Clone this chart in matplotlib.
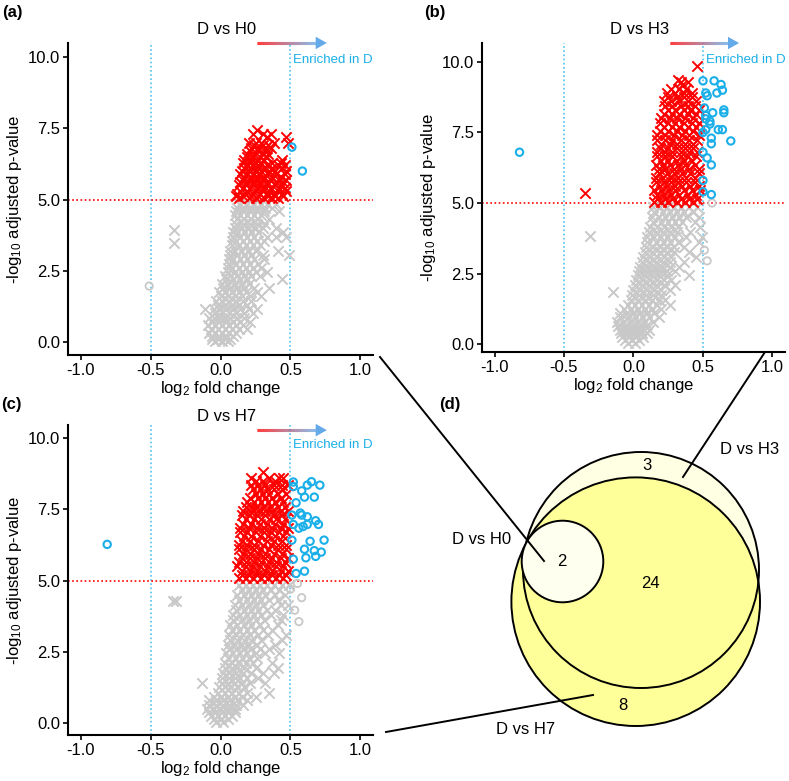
import matplotlib
matplotlib.use('Agg')
import matplotlib.pyplot as plt
import matplotlib.ticker as mticker
import numpy as np
from matplotlib.collections import LineCollection
from matplotlib.patches import Polygon, Circle
from matplotlib.colors import to_rgb

plt.rcParams['font.family'] = ['Liberation Sans', 'DejaVu Sans']
plt.rcParams['mathtext.default'] = 'regular'

RED = '#FF0000'
GREY = '#C8C8C8'
BLUE = '#1AAFE8'
VLINE = '#4FC3F0'
ARROW_END = '#64AAE8'

# ---------------- data ----------------
# each row: (-log10 adj. p, [log2 fold changes at that height])

# panel (a): D vs H0
a_red_rows = [
    (7.45, [0.26]), (7.3, [0.23, 0.30, 0.36]), (7.2, [0.33, 0.47]),
    (7.0, [0.20, 0.25, 0.29, 0.38, 0.48]), (6.9, [0.24, 0.30, 0.34]),
    (6.8, [0.22, 0.27, 0.32, 0.36]), (6.7, [0.21, 0.27, 0.32]),
    (6.6, [0.19, 0.24, 0.30, 0.34]), (6.5, [0.19, 0.23, 0.28, 0.33]),
    (6.4, [0.17, 0.21, 0.26, 0.31, 0.44]), (6.3, [0.16, 0.21, 0.25, 0.29, 0.37, 0.43]),
    (6.2, [0.19, 0.23, 0.27, 0.33, 0.41, 0.46]), (6.1, [0.17, 0.22, 0.27, 0.31, 0.37, 0.44]),
    (6.0, [0.15, 0.20, 0.25, 0.29, 0.35, 0.39, 0.47]),
    (5.9, [0.14, 0.19, 0.24, 0.28, 0.34, 0.40, 0.46]),
    (5.8, [0.17, 0.22, 0.26, 0.31, 0.37, 0.43]),
    (5.7, [0.16, 0.21, 0.26, 0.30, 0.36, 0.42, 0.47]),
    (5.6, [0.14, 0.19, 0.24, 0.28, 0.33, 0.40, 0.45]),
    (5.5, [0.13, 0.18, 0.23, 0.28, 0.33, 0.39, 0.44]),
    (5.4, [0.16, 0.21, 0.26, 0.30, 0.36, 0.42, 0.46]),
    (5.3, [0.14, 0.19, 0.25, 0.30, 0.35, 0.41, 0.47]),
    (5.2, [0.12, 0.18, 0.23, 0.28, 0.33, 0.38, 0.44]),
    (5.12, [0.11, 0.16, 0.22, 0.27, 0.34, 0.39, 0.45]),
    (5.05, [0.13, 0.20, 0.25, 0.31, 0.37, 0.41]),
]
a_grey_rows = [
    (4.85, [0.13, 0.18, 0.23, 0.28, 0.33, 0.40]), (4.72, [0.12, 0.17, 0.22, 0.27, 0.32, 0.37]),
    (4.6, [0.11, 0.16, 0.21, 0.26, 0.31, 0.42]), (4.45, [0.10, 0.14, 0.19, 0.24, 0.29]),
    (4.3, [0.12, 0.17, 0.22, 0.27, 0.35]), (4.15, [0.11, 0.16, 0.21, 0.26, 0.32]),
    (4.0, [0.10, 0.15, 0.20, 0.25, 0.30, 0.40]), (3.93, [-0.33]),
    (3.85, [0.09, 0.12, 0.17, 0.22, 0.27, 0.45]), (3.7, [0.09, 0.14, 0.19, 0.24, 0.33, 0.40, 0.47]),
    (3.55, [0.08, 0.11, 0.16, 0.21, 0.26, 0.31]), (3.47, [-0.33]),
    (3.4, [0.08, 0.13, 0.18, 0.23, 0.28]), (3.2, [0.07, 0.10, 0.15, 0.20, 0.25, 0.41]),
    (3.05, [0.07, 0.12, 0.17, 0.22, 0.30, 0.49]), (2.9, [0.06, 0.09, 0.14, 0.19, 0.24, 0.31]),
    (2.75, [0.06, 0.11, 0.16, 0.21, 0.27]), (2.6, [0.05, 0.08, 0.13, 0.18, 0.23, 0.29]),
    (2.45, [0.05, 0.10, 0.15, 0.20, 0.25, 0.33]), (2.3, [0.03, 0.07, 0.12, 0.17, 0.22, 0.28]),
    (2.2, [0.04, 0.09, 0.14, 0.19, 0.44]), (2.05, [0.01, 0.05, 0.10, 0.15, 0.20]),
    (1.9, [0.02, 0.07, 0.12, 0.17, 0.24, 0.35]), (1.75, [-0.01, 0.03, 0.08, 0.13, 0.18, 0.26]),
    (1.6, [0.00, 0.05, 0.10, 0.15, 0.21, 0.29]), (1.45, [-0.03, 0.01, 0.06, 0.11, 0.16, 0.22]),
    (1.3, [-0.02, 0.03, 0.08, 0.13, 0.19]), (1.15, [-0.11, -0.05, -0.01, 0.04, 0.09, 0.14, 0.20, 0.26]),
    (1.0, [-0.04, 0.01, 0.06, 0.11, 0.17, 0.23]), (0.85, [-0.08, -0.05, -0.01, 0.03, 0.07, 0.12, 0.17]),
    (0.7, [-0.06, -0.01, 0.04, 0.09, 0.14, 0.21]), (0.58, [-0.09, -0.04, 0.01, 0.06, 0.11, 0.16]),
    (0.45, [-0.07, -0.02, 0.03, 0.08, 0.13, 0.19]), (0.32, [-0.08, -0.04, 0.01, 0.06, 0.11]),
    (0.2, [-0.06, -0.01, 0.04, 0.09]), (0.1, [-0.06, -0.02, 0.03, 0.07]),
    (0.02, [-0.04, 0.01, 0.05]),
]
a_blue_x = [0.51, 0.585]
a_blue_y = [6.84, 6.0]
a_greyo_x = [-0.51]
a_greyo_y = [1.96]

# panel (b): D vs H3
b_red_rows = [
    (9.86, [0.456]), (9.35, [0.32]), (9.3, [0.34, 0.39]), (9.2, [0.35]),
    (9.05, [0.27, 0.33, 0.38]), (8.9, [0.24, 0.30, 0.36, 0.42]),
    (8.75, [0.25, 0.31, 0.36, 0.42]), (8.6, [0.22, 0.27, 0.33, 0.39, 0.45]),
    (8.45, [0.23, 0.28, 0.34, 0.39, 0.44]), (8.3, [0.25, 0.30, 0.36, 0.41, 0.47]),
    (8.15, [0.22, 0.28, 0.33, 0.39, 0.45]), (8.0, [0.20, 0.26, 0.31, 0.37, 0.43]),
    (7.85, [0.19, 0.25, 0.30, 0.36, 0.42, 0.47]), (7.7, [0.22, 0.28, 0.33, 0.39, 0.45]),
    (7.55, [0.19, 0.25, 0.31, 0.37, 0.43]), (7.4, [0.17, 0.23, 0.29, 0.35, 0.40, 0.47]),
    (7.25, [0.17, 0.23, 0.28, 0.34, 0.40, 0.46]), (7.1, [0.20, 0.26, 0.31, 0.37, 0.43]),
    (6.95, [0.19, 0.25, 0.31, 0.37, 0.43]), (6.8, [0.17, 0.23, 0.28, 0.34, 0.40, 0.46]),
    (6.65, [0.17, 0.23, 0.28, 0.34, 0.39, 0.45]), (6.5, [0.20, 0.25, 0.31, 0.36, 0.42]),
    (6.35, [0.16, 0.21, 0.26, 0.32, 0.37, 0.44]), (6.2, [0.18, 0.23, 0.29, 0.34, 0.40, 0.47]),
    (6.05, [0.18, 0.24, 0.29, 0.35, 0.41, 0.47]), (5.9, [0.16, 0.21, 0.27, 0.32, 0.38, 0.44]),
    (5.75, [0.16, 0.22, 0.27, 0.32, 0.38, 0.44]), (5.6, [0.19, 0.24, 0.30, 0.35, 0.41, 0.47]),
    (5.45, [0.15, 0.20, 0.25, 0.30, 0.36, 0.42, 0.48]), (5.35, [-0.35]),
    (5.3, [0.17, 0.22, 0.27, 0.33, 0.39, 0.45]), (5.15, [0.17, 0.23, 0.28, 0.34, 0.40, 0.46]),
    (5.05, [0.15, 0.20, 0.25, 0.31, 0.37, 0.43]),
]
b_grey_rows = [
    (4.85, [0.14, 0.19, 0.24, 0.29, 0.34, 0.40, 0.46]), (4.68, [0.15, 0.21, 0.26, 0.31, 0.36, 0.43]),
    (4.5, [0.13, 0.18, 0.23, 0.28, 0.33, 0.38, 0.47]), (4.32, [0.14, 0.20, 0.25, 0.30, 0.35, 0.44]),
    (4.15, [0.12, 0.17, 0.22, 0.27, 0.32, 0.48]), (3.98, [0.11, 0.16, 0.21, 0.26, 0.31, 0.41]),
    (3.83, [-0.31]), (3.8, [0.10, 0.15, 0.20, 0.25, 0.30, 0.38, 0.49]),
    (3.62, [0.10, 0.16, 0.21, 0.26, 0.32, 0.47]), (3.45, [0.09, 0.14, 0.19, 0.24, 0.29, 0.36]),
    (3.28, [0.08, 0.13, 0.19, 0.24, 0.29, 0.40]), (3.1, [0.07, 0.12, 0.17, 0.22, 0.27, 0.45]),
    (2.92, [0.06, 0.11, 0.16, 0.21, 0.26, 0.36]), (2.75, [0.05, 0.10, 0.15, 0.20, 0.26, 0.33]),
    (2.6, [0.04, 0.09, 0.14, 0.19, 0.24, 0.30]), (2.45, [0.03, 0.08, 0.13, 0.18, 0.24, 0.40]),
    (2.28, [0.02, 0.07, 0.12, 0.17, 0.22, 0.27]), (2.1, [0.01, 0.06, 0.11, 0.16, 0.22, 0.30]),
    (1.92, [0.00, 0.05, 0.10, 0.15, 0.20, 0.26]), (1.85, [-0.15]),
    (1.75, [-0.01, 0.04, 0.09, 0.14, 0.20]), (1.58, [-0.02, 0.03, 0.08, 0.13, 0.18, 0.23]),
    (1.4, [-0.04, 0.01, 0.06, 0.11, 0.17, 0.26]), (1.25, [-0.07, -0.02, 0.03, 0.08, 0.13, 0.20]),
    (1.1, [-0.10, -0.05, 0.00, 0.05, 0.10, 0.15]), (0.95, [-0.10, -0.04, 0.01, 0.06, 0.11, 0.18]),
    (0.8, [-0.12, -0.07, -0.02, 0.03, 0.08, 0.14]), (0.65, [-0.11, -0.06, -0.01, 0.04, 0.09]),
    (0.5, [-0.10, -0.05, 0.00, 0.05, 0.11]), (0.38, [-0.09, -0.04, 0.01, 0.06, 0.10]),
    (0.25, [-0.08, -0.03, 0.02, 0.07]), (0.15, [-0.06, -0.01, 0.04]), (0.05, [-0.04, 0.01]),
]
b_blue_x = [-0.82, 0.50, 0.58, 0.63, 0.64, 0.52, 0.53, 0.60, 0.51, 0.52, 0.57, 0.65, 0.65,
            0.52, 0.55, 0.55, 0.50, 0.52, 0.61, 0.64, 0.56, 0.56, 0.70, 0.50, 0.53, 0.56,
            0.50, 0.50, 0.56]
b_blue_y = [6.8, 9.33, 9.33, 9.2, 9.0, 8.9, 8.8, 8.9, 8.37, 8.1, 8.2, 8.3, 8.2,
            7.98, 7.9, 7.8, 7.5, 7.6, 7.6, 7.6, 7.3, 7.1, 7.2, 6.8, 6.6, 6.35,
            5.8, 5.4, 5.3]
b_greyo_x = [0.565, 0.51, 0.53]
b_greyo_y = [5.0, 3.33, 2.95]

# panel (c): D vs H7
c_red_rows = [
    (8.8, [0.30]), (8.6, [0.22, 0.35, 0.42, 0.45]), (8.48, [0.25, 0.30, 0.39]),
    (8.35, [0.22, 0.27, 0.32, 0.38, 0.44, 0.48]), (8.2, [0.23, 0.28, 0.33, 0.38, 0.44]),
    (8.05, [0.25, 0.30, 0.35, 0.41, 0.47]), (7.9, [0.21, 0.27, 0.32, 0.37, 0.43]),
    (7.75, [0.19, 0.24, 0.29, 0.34, 0.39, 0.45]), (7.6, [0.18, 0.22, 0.26, 0.31, 0.36, 0.41, 0.46]),
    (7.45, [0.16, 0.21, 0.27, 0.32, 0.37, 0.43, 0.48]), (7.3, [0.15, 0.20, 0.26, 0.32, 0.38, 0.44]),
    (7.15, [0.18, 0.24, 0.29, 0.35, 0.40, 0.46]), (7.0, [0.16, 0.22, 0.28, 0.33, 0.39, 0.45]),
    (6.85, [0.14, 0.20, 0.26, 0.31, 0.37, 0.43, 0.48]), (6.7, [0.14, 0.19, 0.25, 0.31, 0.36, 0.42, 0.47]),
    (6.55, [0.17, 0.22, 0.28, 0.34, 0.39, 0.45]), (6.4, [0.15, 0.21, 0.27, 0.33, 0.38, 0.44]),
    (6.25, [0.13, 0.19, 0.24, 0.30, 0.36, 0.41, 0.47]), (6.1, [0.13, 0.18, 0.24, 0.29, 0.35, 0.41, 0.47]),
    (5.95, [0.16, 0.21, 0.27, 0.32, 0.38, 0.44]), (5.8, [0.15, 0.21, 0.26, 0.32, 0.37, 0.43, 0.48]),
    (5.65, [0.13, 0.18, 0.24, 0.29, 0.35, 0.40, 0.46]), (5.5, [0.12, 0.18, 0.23, 0.28, 0.34, 0.40, 0.45]),
    (5.35, [0.15, 0.21, 0.26, 0.32, 0.37, 0.43, 0.48]), (5.2, [0.15, 0.20, 0.26, 0.31, 0.37, 0.42, 0.47]),
    (5.08, [0.13, 0.18, 0.23, 0.29, 0.34, 0.40, 0.45]),
]
c_grey_rows = [
    (4.85, [0.13, 0.18, 0.23, 0.28, 0.33, 0.38, 0.44, 0.49]), (4.68, [0.15, 0.20, 0.25, 0.30, 0.36, 0.42]),
    (4.5, [0.12, 0.17, 0.22, 0.27, 0.32, 0.39, 0.46]), (4.32, [0.13, 0.19, 0.24, 0.29, 0.35, 0.41]),
    (4.3, [-0.34, -0.32]), (4.15, [0.10, 0.15, 0.20, 0.25, 0.30, 0.43, 0.48]),
    (3.98, [0.11, 0.17, 0.22, 0.27, 0.33, 0.39]), (3.8, [0.09, 0.14, 0.19, 0.24, 0.29, 0.36, 0.45]),
    (3.62, [0.09, 0.15, 0.20, 0.25, 0.31, 0.43]), (3.45, [0.07, 0.12, 0.17, 0.22, 0.28, 0.41]),
    (3.28, [0.08, 0.13, 0.19, 0.24, 0.30, 0.37]), (3.1, [0.06, 0.11, 0.16, 0.21, 0.27, 0.34, 0.47]),
    (2.92, [0.07, 0.12, 0.17, 0.22, 0.29, 0.44]), (2.75, [0.05, 0.10, 0.15, 0.20, 0.26, 0.39]),
    (2.6, [0.06, 0.11, 0.16, 0.21, 0.28, 0.35]), (2.45, [0.04, 0.09, 0.14, 0.19, 0.25, 0.32, 0.42]),
    (2.28, [0.05, 0.10, 0.15, 0.20, 0.26]), (2.1, [0.03, 0.08, 0.13, 0.18, 0.23, 0.37]),
    (1.92, [0.03, 0.08, 0.12, 0.17, 0.25, 0.41]), (1.75, [0.02, 0.06, 0.11, 0.16, 0.22, 0.30, 0.38]),
    (1.58, [0.01, 0.06, 0.10, 0.14, 0.19, 0.27]), (1.4, [-0.13, 0.01, 0.05, 0.10, 0.15, 0.21, 0.32]),
    (1.25, [-0.01, 0.03, 0.07, 0.12, 0.17]), (1.05, [-0.02, 0.03, 0.08, 0.13, 0.19, 0.35]),
    (0.92, [-0.05, 0.00, 0.05, 0.10, 0.15, 0.25]), (0.8, [-0.08, -0.03, 0.02, 0.07, 0.12, 0.19]),
    (0.65, [-0.08, -0.03, 0.02, 0.06, 0.11, 0.16]), (0.5, [-0.10, -0.05, 0.00, 0.05, 0.10]),
    (0.38, [-0.08, -0.04, 0.01, 0.05, 0.10]), (0.25, [-0.07, -0.02, 0.03, 0.08]),
    (0.15, [-0.05, 0.00, 0.05]), (0.05, [-0.03, 0.02]),
]
c_blue_x = [-0.81, 0.52, 0.52, 0.58, 0.62, 0.65, 0.71, 0.54, 0.60, 0.67, 0.51, 0.57, 0.58,
            0.62, 0.68, 0.70, 0.52, 0.56, 0.59, 0.62, 0.51, 0.64, 0.74, 0.60, 0.67, 0.72,
            0.61, 0.68, 0.52, 0.54, 0.60]
c_blue_y = [6.27, 8.46, 8.3, 8.15, 8.35, 8.47, 8.35, 7.73, 7.93, 7.93, 7.3, 7.37, 7.3,
            7.24, 7.1, 6.97, 6.97, 6.84, 6.9, 6.97, 6.42, 6.38, 6.42, 6.1, 6.05, 6.0,
            5.8, 5.85, 5.75, 5.25, 5.33]
c_greyo_x = [0.55, 0.58, 0.53, 0.56, 0.50]
c_greyo_y = [4.9, 4.4, 3.96, 3.56, 4.7]

# panel (d): Venn region counts
venn_counts = {'all_three': 2, 'H3_H7': 24, 'H3_only': 3, 'H7_only': 8}
venn_names = ['D vs H0', 'D vs H3', 'D vs H7']


def flatten(rows):
    xs, ys = [], []
    for y, row in rows:
        xs += row
        ys += [y] * len(row)
    return xs, ys


# ---------------- figure ----------------
fig = plt.figure(figsize=(7.89, 7.81), dpi=100)

ax_a = fig.add_axes([0.0862, 0.5455, 0.3866, 0.3995])
ax_b = fig.add_axes([0.6109, 0.5493, 0.3840, 0.3956])
ax_c = fig.add_axes([0.0862, 0.0589, 0.3866, 0.3969])


def grad_arrow(ax, x0, x1, y, head=0.08):
    n = 60
    xs = np.linspace(x0, x1 - head, n + 1)
    segs = [[(xs[i], y), (xs[i + 1], y)] for i in range(n)]
    c0, c1 = np.array(to_rgb(RED)), np.array(to_rgb(ARROW_END))
    cols = [c0 + (c1 - c0) * i / (n - 1) for i in range(n)]
    lc = LineCollection(segs, colors=cols, linewidths=2.2, clip_on=False)
    ax.add_collection(lc)
    ax.add_patch(Polygon([(x1 - head, y + 0.22), (x1, y), (x1 - head, y - 0.22)],
                         closed=True, color=ARROW_END, clip_on=False, lw=0))


def volcano(ax, title, red, grey, blue, greyo, ylim, arrow_y, text_y, title_pad):
    ax.axvline(-0.5, color=VLINE, ls=(0, (1, 1.5)), lw=1.2, zorder=1)
    ax.axvline(0.5, color=VLINE, ls=(0, (1, 1.5)), lw=1.2, zorder=1)
    ax.axhline(5.0, color=RED, ls=(0, (1, 1.5)), lw=1.2, zorder=1)
    ax.scatter(grey[0], grey[1], marker='x', s=55, c=GREY, linewidths=1.4, zorder=2)
    ax.scatter(greyo[0], greyo[1], marker='o', s=28, facecolors='none',
               edgecolors=GREY, linewidths=1.3, zorder=2)
    ax.scatter(red[0], red[1], marker='x', s=55, c=RED, linewidths=1.4, zorder=3)
    ax.scatter(blue[0], blue[1], marker='o', s=28, facecolors='none',
               edgecolors=BLUE, linewidths=1.5, zorder=3)
    ax.set_xlim(-1.09, 1.09)
    ax.set_ylim(*ylim)
    ax.set_xticks([-1.0, -0.5, 0.0, 0.5, 1.0])
    ax.set_yticks([0.0, 2.5, 5.0, 7.5, 10.0])
    ax.xaxis.set_major_formatter(mticker.FormatStrFormatter('%.1f'))
    ax.yaxis.set_major_formatter(mticker.FormatStrFormatter('%.1f'))
    for s in ['top', 'right']:
        ax.spines[s].set_visible(False)
    for s in ['left', 'bottom']:
        ax.spines[s].set_linewidth(1.5)
    ax.tick_params(direction='out', length=3.5, width=1.2, labelsize=12, pad=2)
    ax.set_xlabel('log$_2$ fold change', fontsize=12, labelpad=1)
    ax.set_ylabel('-log$_{10}$ adjusted p-value', fontsize=12, labelpad=3)
    ax.set_title(title, fontsize=12, x=0.52, pad=title_pad)
    grad_arrow(ax, 0.26, 0.76, arrow_y)
    ax.text(0.52, text_y, 'Enriched in D', color=BLUE, fontsize=9.5, va='center', ha='left')


volcano(ax_a, 'D vs H0', flatten(a_red_rows), flatten(a_grey_rows), (a_blue_x, a_blue_y),
        (a_greyo_x, a_greyo_y), (-0.46, 10.5), 10.5, 9.9, 6.5)
volcano(ax_b, 'D vs H3', flatten(b_red_rows), flatten(b_grey_rows), (b_blue_x, b_blue_y),
        (b_greyo_x, b_greyo_y), (-0.28, 10.67), 10.67, 10.07, 6.5)
volcano(ax_c, 'D vs H7', flatten(c_red_rows), flatten(c_grey_rows), (c_blue_x, c_blue_y),
        (c_greyo_x, c_greyo_y), (-0.42, 10.46), 10.28, 9.75, 3)

# overlay in pixel coordinates for the Venn panel and the connectors
ov = fig.add_axes([0, 0, 1, 1], zorder=-1)
ov.set_xlim(0, 789)
ov.set_ylim(781, 0)
ov.axis('off')

ov.add_patch(Circle((641, 570), 118, facecolor='#FFFFE4', edgecolor='none'))
ov.add_patch(Circle((635.7, 601.7), 124.3, facecolor='#FFFF99', edgecolor='none'))
ov.add_patch(Circle((641, 570), 118, facecolor='none', edgecolor='black', lw=1.4))
ov.add_patch(Circle((635.7, 601.7), 124.3, facecolor='none', edgecolor='black', lw=1.4))
ov.add_patch(Circle((562.5, 561.5), 40.8, facecolor='#FFFFF0', edgecolor='black', lw=1.4))

ov.text(647, 465, str(venn_counts['H3_only']), fontsize=12, ha='center', va='center')
ov.text(562, 562, str(venn_counts['all_three']), fontsize=12, ha='center', va='center')
ov.text(650, 583, str(venn_counts['H3_H7']), fontsize=12, ha='center', va='center')
ov.text(623, 706, str(venn_counts['H7_only']), fontsize=12, ha='center', va='center')
ov.text(750, 449, venn_names[1], fontsize=12, ha='center', va='center')
ov.text(482, 539, venn_names[0], fontsize=12, ha='center', va='center')
ov.text(526, 730, venn_names[2], fontsize=12, ha='center', va='center')

ov.plot([380, 544], [357, 561], color='black', lw=1.4)
ov.plot([765, 683], [352, 477], color='black', lw=1.4)
ov.plot([386, 593], [732, 695], color='black', lw=1.4)

for lab, (px, py) in zip(['(a)', '(b)', '(c)', '(d)'],
                         [(12, 13), (435, 13), (11, 405), (450, 405)]):
    ov.text(px, py, lab, fontsize=12, fontweight='bold', ha='center', va='center')

fig.savefig('out.png', dpi=100)
